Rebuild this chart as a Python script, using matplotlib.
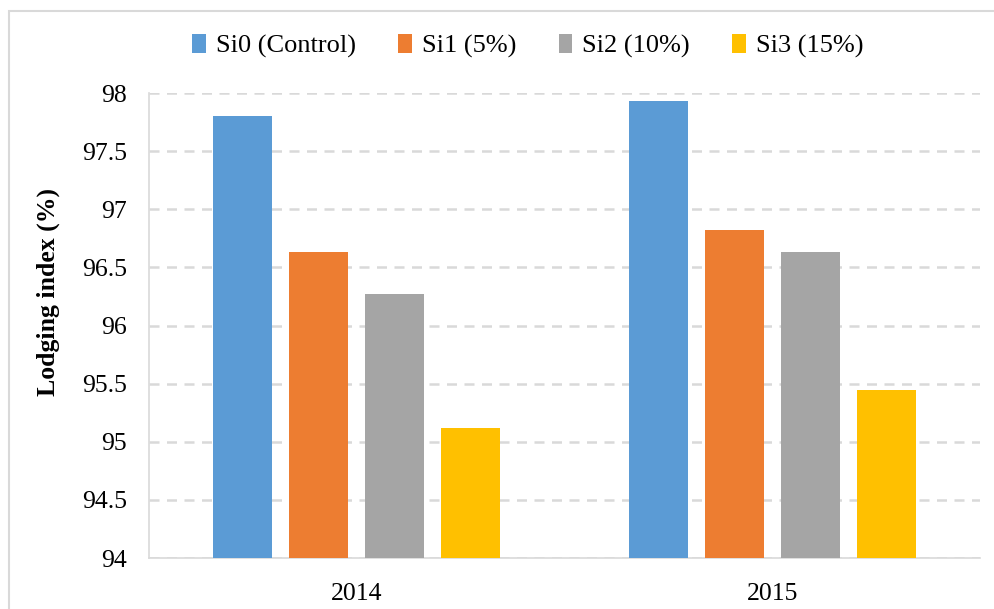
import numpy as np
import matplotlib
matplotlib.use("Agg")
from matplotlib import pyplot as plt
from matplotlib.patches import Rectangle

years = ["2014", "2015"]
series = ["Si0 (Control)", "Si1 (5%)", "Si2 (10%)", "Si3 (15%)"]
si0 = [97.80, 97.93]
si1 = [96.63, 96.82]
si2 = [96.27, 96.63]
si3 = [95.12, 95.45]
colors = ["#5b9bd5", "#ed7d31", "#a5a5a5", "#ffc000"]
ytick_labels = ["94", "94.5", "95", "95.5", "96", "96.5", "97", "97.5", "98"]

plt.rcParams["font.family"] = ["Liberation Serif", "DejaVu Serif"]

fig = plt.figure(figsize=(9.95, 6.09), dpi=100)
ax = fig.add_axes([0.1497, 0.0837, 0.8353, 0.7633])

# outer chart frame (only top and left edges visible)
fig.patches.append(Rectangle((9 / 995, -0.1), 1.2, 1 - 11 / 609 + 0.1,
                             transform=fig.transFigure, fill=False,
                             edgecolor="#d9d9d9", linewidth=1.5))

x = np.arange(len(years))
w = 0.142
step = 0.1825
for i, (vals, name) in enumerate(zip([si0, si1, si2, si3], series)):
    ax.bar(x + (i - 1.5) * step, vals, width=w, color=colors[i], label=name, zorder=3)

ax.set_xlim(-0.5, 1.5)
ax.set_ylim(94, 98)
ax.set_yticks(np.arange(94, 98.01, 0.5))
ax.set_yticklabels(ytick_labels, family="Liberation Serif")
ax.set_xticks(x)
ax.set_xticklabels(years, family="Liberation Serif")
ax.tick_params(axis="both", length=0, labelsize=18.5)
ax.tick_params(axis="y", pad=16)
ax.tick_params(axis="x", pad=18)
ax.yaxis.grid(True, color="#d9d9d9", linestyle=(0, (4, 3)), linewidth=1.8, zorder=0)
for s in ["top", "right"]:
    ax.spines[s].set_visible(False)
for s in ["left", "bottom"]:
    ax.spines[s].set_color("#d9d9d9")
    ax.spines[s].set_linewidth(1.2)

ax.set_ylabel("Lodging index (%)", fontsize=18.5, fontweight="bold")
ax.yaxis.set_label_coords(-0.107, 0.572)

fig.legend(loc="center", bbox_to_anchor=(528 / 995, 1 - 46 / 609), ncol=4,
           frameon=False, fontsize=19, handlelength=0.5, handleheight=0.7,
           handletextpad=0.4, columnspacing=1.6)

fig.savefig("out.png", dpi=100)
